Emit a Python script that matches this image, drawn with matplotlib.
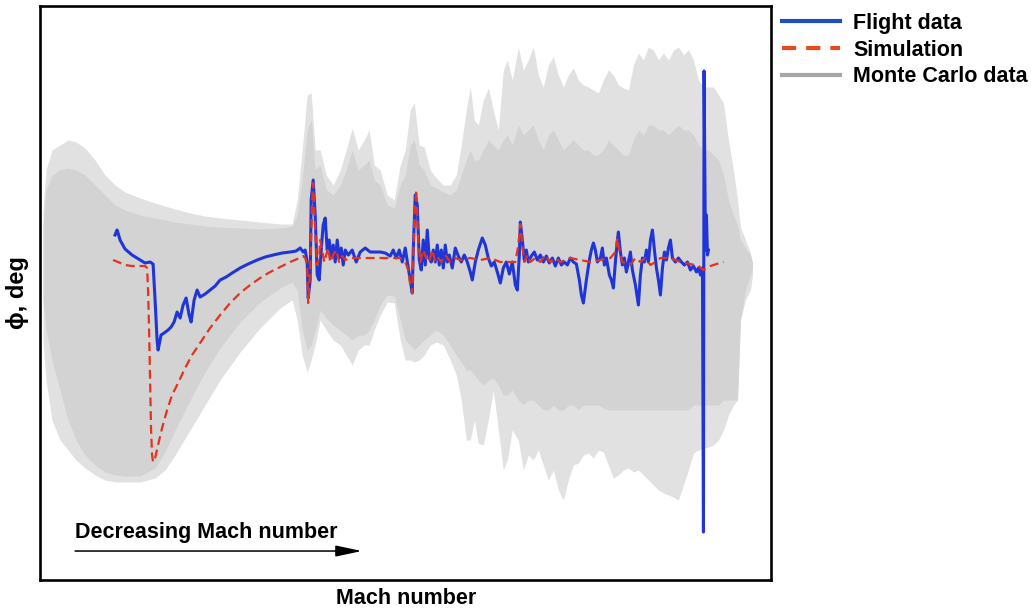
import numpy as np
import matplotlib
matplotlib.use("Agg")
import matplotlib.pyplot as plt
from matplotlib.lines import Line2D

plt.rcParams['font.family'] = ['Liberation Sans', 'DejaVu Sans']
plt.rcParams['font.weight'] = 'bold'

# Trajectory sample index (Mach decreases left to right) and roll angle, deg

flight_x = [75, 77, 78, 80, 85, 92, 100, 105, 110, 113, 115, 117, 118, 121, 124,
            128, 131, 134, 137, 140, 143, 146, 149, 151, 154, 157, 160, 165, 170,
            175, 180, 186, 192, 200, 208, 217, 225, 233, 242, 250, 256, 260, 263,
            265, 267, 268, 270, 271, 273, 275, 277, 279, 281, 283, 285, 287, 289,
            291, 293, 295, 297, 299, 301, 303, 305, 308, 312, 316, 320, 325, 330,
            335, 340, 345, 350, 353, 356, 359, 362, 365, 368, 370, 372, 373, 375,
            377, 379, 381, 383, 385, 387, 389, 391, 393, 395, 397, 399, 401, 403,
            405, 407, 409, 412, 415, 418, 421, 424, 427, 430, 432, 435, 438, 442,
            445, 448, 451, 454, 457, 460, 463, 466, 469, 472, 475, 477, 479, 480,
            482, 484, 486, 488, 491, 494, 497, 500, 503, 506, 509, 512, 515, 518,
            521, 524, 527, 530, 533, 536, 539, 541, 543, 546, 549, 551, 553, 555,
            557, 560, 562, 564, 566, 569, 571, 573, 575, 577, 578, 580, 582, 584,
            586, 588, 590, 592, 595, 598, 600, 602, 604, 606, 608, 610, 612, 614,
            616, 618, 620, 622, 624, 626, 628, 630, 632, 635, 638, 641, 644, 647,
            650, 653, 656, 658, 660, 662, 663, 663.6, 664.5, 665, 666, 667, 668]
flight_phi = [2.7, 3.2, 2.9, 2.2, 1.3, 0.7, 0.2, -0.1, 0.0, -0.2, -3.8, -7.8, -8.8,
              -7.3, -7.1, -6.8, -6.5, -6.0, -5.0, -5.6, -4.3, -3.6, -5.3, -6.0,
              -3.8, -2.8, -3.5, -3.2, -2.8, -2.4, -1.8, -1.5, -1.1, -0.6, -0.2,
              0.2, 0.5, 0.7, 0.9, 1.0, 1.1, 1.4, 1.0, 1.2, 0.0, -3.6, -1.8, 6.2,
              8.2, 4.7, -1.3, -1.8, 1.2, 3.7, 4.4, 1.2, 2.2, 0.4, 1.7, 0.0, 2.2,
              0.4, 1.4, -0.3, 1.2, 0.7, 1.2, 0.0, 1.0, 1.4, 1.0, 1.0, 1.0, 0.9,
              0.6, 1.2, 0.4, 1.2, 0.0, 1.4, -0.6, -1.8, -3.1, 1.2, 6.7, 5.7, 0.2,
              -0.8, 2.2, -0.3, 3.2, 0.4, 0.0, 1.2, 0.0, 1.7, -0.3, 1.2, -0.6, 1.7,
              0.0, 0.7, -0.6, 1.4, 0.6, 0.0, 0.7, 0.0, -1.0, -1.8, 0.0, 1.2, 2.4,
              1.7, 0.4, -0.4, 0.0, -1.0, -2.1, -0.6, 0.0, -1.2, 0.0, -2.3, -2.8,
              0.7, 4.0, 2.2, 0.2, 1.2, 0.0, 0.6, 1.0, 0.2, 0.7, 0.0, 0.6, -0.1,
              0.4, -0.4, 0.4, -0.3, 0.0, -0.3, 0.4, 0.0, -0.2, -1.8, -3.3, -4.1,
              -1.8, 0.2, 1.2, 1.9, 1.2, 0.0, 0.4, 1.4, -0.3, 0.4, -1.3, -1.8, -2.6,
              0.0, 2.2, 3.0, 1.0, -0.3, 0.4, -1.0, 0.0, 1.0, -0.8, -2.3, -4.3,
              -1.3, 0.4, 0.0, 1.2, 0.0, 2.2, 3.2, 1.2, -0.6, -1.8, -3.3, -0.6, 1.0,
              0.2, 1.4, 2.2, 0.4, 0.0, 0.4, 0.0, -0.3, 0.0, -0.8, -0.4, -1.0, -0.6,
              -1.3, -0.6, -27.0, 19.1, 7.2, 1.2, 4.7, 0.7, 1.2]

sim_x = [73, 78, 85, 92, 100, 105, 107, 108, 109, 110, 111, 112, 113, 115, 118,
         122, 127, 132, 138, 145, 152, 160, 170, 180, 190, 200, 210, 220, 230,
         240, 250, 257, 263, 265, 267, 268, 270, 272, 273, 275, 277, 279, 280,
         282, 284, 286, 288, 290, 293, 296, 299, 302, 305, 310, 360, 365, 368,
         370, 372, 374, 376, 378, 380, 383, 386, 389, 392, 395, 398, 401, 405,
         410, 415, 420, 430, 440, 450, 460, 470, 475, 478, 480, 482, 484, 487,
         490, 495, 500, 505, 510, 515, 520, 530, 540, 550, 560, 570, 575, 577,
         579, 582, 590, 595, 600, 605, 610, 615, 620, 630, 640, 650, 658, 663,
         666, 670, 676, 683]
sim_phi = [0.2, 0.0, -0.3, -0.4, -0.4, -0.4, -0.6, -2.8, -6.8, -11.8, -16.8,
           -19.3, -20.0, -19.6, -18.3, -16.6, -14.8, -13.3, -12.1, -10.6, -9.3,
           -8.1, -6.6, -5.3, -4.1, -3.1, -2.3, -1.6, -1.0, -0.5, 0.0, 0.3, 0.6,
           0.4, -0.3, -4.1, -0.8, 6.2, 7.9, 3.2, -0.3, 0.4, 2.2, 1.2, 0.0, 0.7,
           1.4, 0.0, 0.7, 1.2, 0.0, 0.6, 0.2, 0.4, 0.4, 0.0, -0.8, -2.3, -3.1,
           4.2, 7.2, 2.2, 0.0, 1.2, 0.4, 0.0, 1.2, 0.0, 0.4, 0.0, 0.7, 0.0, 0.4,
           0.2, 0.4, 0.2, 0.4, 0.0, 0.0, 0.0, 1.7, 3.8, 1.7, 0.0, 0.7, 0.0, 0.4,
           0.0, 0.7, 0.0, 0.4, 0.0, 0.4, 0.2, 0.0, 0.2, 0.4, 1.0, 2.4, 1.2, 0.0,
           -0.3, 0.4, 0.0, 0.4, -0.3, 0.0, 0.4, 0.4, 0.0, -0.2, -0.4, -0.8,
           -0.6, -0.4, -0.2, 0.0]

# Monte Carlo dispersion: outer (sparse runs) and core (dense runs) bounds
mc_x = [3, 6, 12, 20, 28, 36, 45, 55, 65, 75, 85, 100, 115, 125, 135, 150, 165,
        180, 200, 220, 240, 252,
        257, 262, 267, 271, 275, 280, 286, 293, 300, 306, 312, 318, 324, 329,
        334, 340, 347, 354, 360, 365, 370, 374, 379, 384, 390, 396, 403, 410,
        416, 421, 426, 430, 434, 438, 443, 448, 453, 458,
        463, 467, 472, 478, 483, 488, 493, 498, 503, 508, 513, 518, 523, 528,
        533, 538, 543, 548, 553, 558, 563, 568, 573, 578, 583, 588, 593, 598,
        603, 608, 613, 618, 623, 628, 633, 638, 643, 648, 653, 658, 663, 668,
        673, 678, 683, 688, 693, 697, 700, 705, 710, 712]
mc_outer_hi = [5.2, 9.2, 11.2, 11.7, 12.2, 12.0, 11.4, 10.2, 8.7, 7.7, 7.0, 6.4,
               5.9, 5.6, 5.3, 4.9, 4.6, 4.4, 4.2, 4.0, 3.8, 3.8,
               6.2, 11.2, 16.7, 16.9, 11.2, 11.2, 8.7, 7.7, 9.2, 11.2, 13.4,
               11.2, 12.2, 13.2, 9.7, 9.2, 6.7, 6.2, 9.7, 11.2, 15.2, 15.9, 11.7,
               11.5, 9.2, 8.4, 7.7, 7.7, 8.7, 11.7, 15.2, 17.5, 14.2, 13.7, 16.2,
               17.4, 15.2, 13.2,
               19.2, 20.2, 18.2, 21.5, 19.2, 20.2, 21.5, 18.7, 17.5, 19.7, 20.5,
               18.7, 17.5, 18.7, 19.4, 18.2, 17.7, 17.5, 17.2, 16.9, 18.2, 19.2,
               18.7, 17.7, 17.4, 17.2, 19.7, 20.9, 20.2, 21.5, 21.2, 20.2, 20.9,
               20.2, 21.2, 21.5, 20.7, 21.2, 20.2, 18.2, 17.5, 17.5, 17.5, 16.7,
               15.9, 12.2, 9.2, 6.2, 3.5, 2.2, 0.9, -0.3]
mc_core_hi = [3.7, 7.2, 8.7, 9.2, 9.4, 9.2, 8.7, 7.7, 6.7, 5.7, 5.2, 4.7, 4.4,
              4.2, 4.0, 3.8, 3.6, 3.5, 3.4, 3.3, 3.4, 3.6,
              4.7, 8.2, 13.2, 14.2, 9.2, 9.7, 7.2, 6.7, 7.7, 9.2, 11.2, 9.2, 9.7,
              10.2, 8.2, 7.7, 5.7, 5.4, 7.7, 8.7, 11.7, 12.2, 9.7, 9.2, 7.7, 7.4,
              7.0, 6.7, 7.2, 8.7, 10.2, 11.2, 10.2, 10.2, 11.2, 12.2, 11.7, 11.2,
              12.2, 12.7, 11.7, 13.7, 12.7, 13.2, 13.7, 12.2, 11.2, 12.7, 13.2,
              12.2, 11.2, 11.7, 12.2, 11.7, 11.2, 11.2, 10.7, 10.7, 11.2, 12.2,
              11.7, 11.2, 10.7, 10.7, 12.2, 13.2, 12.7, 13.7, 13.7, 13.2, 13.2,
              12.7, 13.2, 13.7, 13.2, 13.2, 12.7, 11.7, 11.2, 11.2, 10.7, 10.2,
              8.7, 6.2, 4.7, 3.7, 2.2, 1.4, 0.7, 0.0]
mc_core_lo = [-3.8, -6.8, -9.8, -12.8, -15.8, -17.8, -19.3, -20.3, -21.0, -21.3,
              -21.4, -21.4, -20.6, -19.0, -16.8, -13.8, -11.0, -8.6, -6.0, -4.0,
              -2.6, -2.0,
              -2.8, -6.8, -8.8, -8.3, -6.8, -4.8, -5.6, -6.3, -6.8, -7.3, -7.8,
              -7.3, -7.3, -6.8, -5.8, -4.3, -3.3, -3.4, -5.8, -7.8, -8.3, -8.8,
              -8.3, -7.8, -7.3, -6.8, -7.3, -8.3, -9.3, -10.0, -10.8, -10.8,
              -11.3, -11.8, -12.3, -11.8, -11.6, -12.3,
              -13.3, -13.3, -12.8, -13.8, -14.3, -13.8, -13.8, -14.3, -14.8,
              -14.8, -14.3, -14.8, -14.8, -14.3, -14.3, -14.8, -14.3, -14.3,
              -14.3, -14.3, -14.6, -14.8, -14.8, -14.8, -14.8, -14.8, -14.8,
              -14.8, -14.8, -14.8, -14.8, -14.8, -14.8, -14.8, -14.8, -14.8,
              -14.8, -14.8, -14.3, -14.3, -14.3, -14.3, -14.3, -14.3, -13.8,
              -13.8, -13.8, -13.8, -5.8, -2.8, -1.3, -0.6]
mc_outer_lo = [-7.8, -11.8, -15.8, -17.8, -18.8, -19.8, -20.6, -21.3, -21.8,
               -22.0, -22.0, -22.0, -21.6, -20.8, -19.3, -16.8, -14.3, -11.8,
               -9.0, -6.6, -4.6, -3.8,
               -5.8, -9.3, -11.0, -9.8, -8.3, -5.8, -6.8, -7.8, -8.3, -9.3,
               -10.3, -8.8, -8.3, -8.3, -6.8, -5.3, -4.0, -4.1, -7.8, -9.8, -9.8,
               -10.0, -9.8, -9.3, -8.3, -8.0, -8.3, -9.8, -11.3, -13.8, -17.8,
               -17.8, -15.8, -18.1, -18.3, -15.8, -12.8, -16.8,
               -20.8, -19.8, -16.8, -17.8, -20.8, -19.3, -19.8, -18.8, -20.3,
               -21.8, -20.8, -22.8, -23.8, -21.8, -20.3, -20.1, -19.3, -19.1,
               -19.6, -18.8, -19.0, -20.3, -21.6, -21.3, -20.8, -20.6, -21.0,
               -20.8, -21.3, -21.8, -22.3, -22.8, -23.1, -23.3, -23.5, -23.8,
               -22.3, -20.8, -19.1, -18.8, -18.6, -18.5, -18.3, -17.8, -16.8,
               -15.3, -14.3, -13.8, -5.8, -3.8, -2.8, -1.3]

fig = plt.figure(figsize=(10.31, 6.13), dpi=100)
ax = fig.add_axes([0.0388, 0.0538, 0.7095, 0.9364])

ax.fill_between(mc_x, mc_outer_lo, mc_outer_hi, color='#e1e1e1', lw=0, zorder=1)
ax.fill_between(mc_x, mc_core_lo, mc_core_hi, color='#d3d3d3', lw=0, zorder=2)

ax.plot(flight_x, flight_phi, color='#1f35d8', lw=2.2, zorder=3)
ax.plot(sim_x, sim_phi, color='#e2331f', lw=1.6, dashes=(4.0, 2.2), zorder=4)

ax.set_xlim(0, 731)
ax.set_ylim(-31.8, 25.6)
ax.set_xticks([])
ax.set_yticks([])
for s in ax.spines.values():
    s.set_linewidth(1.9)

ax.set_xlabel('Mach number', fontsize=15.5, fontweight='bold', labelpad=6)
ax.set_ylabel('\u03d5, deg', fontsize=17, fontweight='bold', labelpad=8)

ax.annotate('', xy=(0.44, 0.0505), xytext=(0.048, 0.0505), xycoords='axes fraction',
            arrowprops=dict(arrowstyle='-|>,head_length=0.8,head_width=0.17',
                            mutation_scale=20, lw=1.1, color='black',
                            shrinkA=0, shrinkB=0))
ax.text(0.048, 0.082, 'Decreasing Mach number', transform=ax.transAxes,
        fontsize=15.5, fontweight='bold', ha='left', va='center')

handles = [Line2D([], [], color='#1f4fbf', lw=3),
           Line2D([], [], color='#e8491d', lw=3, dashes=(3.4, 2.4)),
           Line2D([], [], color='#a6a6a6', lw=3)]
fig.legend(handles, ['Flight data', 'Simulation', 'Monte Carlo data'],
           loc='upper left', bbox_to_anchor=(0.7585, 0.979), frameon=False,
           prop=dict(size=15.5, weight='bold'), handlelength=2.7,
           handletextpad=0.6, labelspacing=0.27, borderpad=0,
           borderaxespad=0)

fig.savefig('out.png', dpi=100)
